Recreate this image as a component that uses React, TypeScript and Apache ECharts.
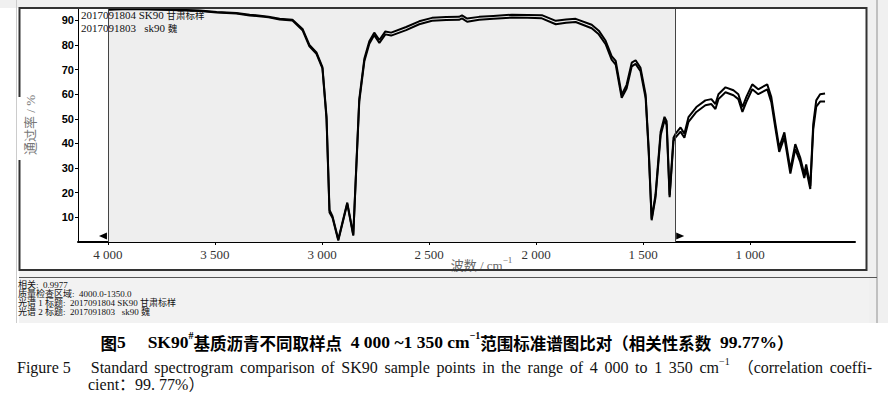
import React, { useEffect, useRef } from "react";
import * as echarts from "echarts";

// Wavenumber grid (cm-1) shared by both spectra
const wavenumbers = [
  4000, 3900, 3804, 3700, 3571, 3492, 3400, 3338, 3250, 3198, 3138, 3091, 3059, 3026, 2998, 2979,
  2965, 2951, 2924, 2882, 2854, 2826, 2802, 2779, 2756, 2732, 2704, 2677, 2607, 2546, 2486, 2420,
  2360, 2346, 2322, 2266, 2200, 2113, 2040, 1973, 1908, 1860, 1815, 1740, 1707, 1675, 1647, 1628,
  1600, 1577, 1553, 1535, 1512, 1488, 1474, 1460, 1442, 1418, 1400, 1390, 1376, 1358, 1348, 1325,
  1307, 1288, 1251, 1209, 1181, 1162, 1148, 1115, 1078, 1055, 1036, 1018, 990, 962, 920, 901,
  882, 864, 840, 812, 789, 766, 747, 738, 719, 705, 691, 673, 650,
];

// Transmittance (%) of spectrum 1: 2017091804 SK90 甘肃标样
const sample1804 = [
  94.5, 94.8, 94.6, 94.4, 94.0, 93.4, 93.0, 92.3, 91.5, 90.6, 90.2, 86.5, 80, 77, 71, 51,
  13, 10.5, 1, 16, 3, 58, 74.5, 81.5, 85, 82, 85.5, 85, 87.3, 89.6, 91, 91.3,
  91.4, 92, 90.7, 91.4, 91.8, 92.3, 92.2, 92.1, 89.8, 90.3, 90.6, 88.2, 85.8, 81.7, 75.5, 73.5,
  59.8, 63.8, 72.8, 73.8, 70.7, 59.8, 38, 9.5, 19.2, 44.8, 50.8, 49, 19, 42.3, 44, 46.5,
  44, 50.7, 54.8, 57.5, 58, 56, 60, 62.8, 61.6, 60, 54.7, 58.8, 64, 62, 64, 58.8,
  48, 38.3, 44.5, 29.5, 39.7, 34.3, 27.5, 31.5, 22.8, 48, 57.5, 60, 60.3,
];

// Transmittance (%) of spectrum 2: 2017091803 sk90 魏
const sample1803 = [
  94.3, 94.6, 94.4, 94.2, 93.8, 93.2, 92.8, 92.0, 91.2, 90.3, 89.9, 86.0, 79.4, 76.4, 70.5, 50,
  12, 9.8, 0.6, 15.5, 2.6, 57, 73.5, 80.5, 84, 80.8, 84.3, 83.8, 86, 88.4, 89.8, 90.1,
  90.2, 90.8, 89.4, 90.2, 90.6, 91.1, 91, 90.8, 88.4, 89, 89.3, 86.8, 84.3, 80.3, 74, 72,
  58.5, 62.3, 71.3, 72.3, 69.3, 58.3, 37, 8.8, 18, 43.3, 49.3, 47.6, 18.2, 41, 42.5, 44.8,
  42.3, 48.8, 52.8, 55.5, 56, 54, 58, 60.8, 59.6, 58, 52.8, 56.8, 62, 60, 62, 56.8,
  46.2, 36.6, 42.5, 27.8, 37.7, 32.5, 26, 29.5, 21.5, 45.8, 55, 57, 57,
];

const seriesNames = ["2017091804 SK90 甘肃标样", "2017091803   sk90 魏"];
const qcRange = [4000, 1350];
const xTickValues = [4000, 3500, 3000, 2500, 2000, 1500, 1000];
const yTickValues = [10, 20, 30, 40, 50, 60, 70, 80, 90];
const infoLines = [
  "相关:  0.9977",
  "质量检查区域:  4000.0-1350.0",
  "光谱 1 标题:  2017091804 SK90 甘肃标样",
  "光谱 2 标题:  2017091803   sk90 魏",
];

const SERIF = '"Liberation Serif", "Noto Sans CJK SC", serif';
const CJK = '"Noto Sans CJK SC", sans-serif';
const SP = " \u2006"; // widened word space of the justified caption line

const fmtWavenumber = (v: number) => {
  const th = Math.floor(v / 1000);
  const rest = String(v % 1000).padStart(3, "0");
  return th > 0 ? `${th} ${rest}` : `${v}`;
};

// "2017091804 SK90 甘肃标样" -> rich text with the CJK tail in its own style
const titleRich = (name: string) => {
  const m = name.match(/^([\x00-\x7f]*)(.*)$/);
  return `{d|${m ? m[1] : name}}{k|${m ? m[2] : ""}}`;
};

export default function App() {
  const ref = useRef<HTMLDivElement>(null);

  useEffect(() => {
    const chart = echarts.init(ref.current!, null, { renderer: "svg" });
    const lineStyle = { color: "#000", width: 2 };
    const captionEn =
      "Standard spectrogram comparison of SK90 sample points in the range of 4 000 to 1 350 cm".split(" ").join(SP);
    const titleStyleRich = {
      d: { fontFamily: SERIF, fontSize: 11, fill: "#111", lineHeight: 11 },
      k: { fontFamily: CJK, fontSize: 9.5, fill: "#111", lineHeight: 11 },
    };

    chart.setOption({
      animation: false,
      backgroundColor: "#fff",
      grid: { left: 78, top: 8, right: 33, bottom: 160, containLabel: false },
      xAxis: {
        type: "value",
        inverse: true,
        min: 510,
        max: 4140,
        splitLine: { show: false },
        axisLine: { lineStyle: { color: "#000", width: 2 } },
        axisTick: { show: true, customValues: xTickValues, length: 3, lineStyle: { color: "#000" } },
        axisLabel: {
          customValues: xTickValues,
          formatter: (v: number) => fmtWavenumber(v),
          fontFamily: SERIF,
          fontSize: 13,
          color: "#333",
          margin: 6,
        },
        name: "{a|波数 / cm}{s|−1}",
        nameLocation: "middle",
        nameGap: 13,
        nameMoveOverlap: false,
        nameTextStyle: {
          padding: [0, 0, 0, 30],
          rich: {
            a: { fontFamily: SERIF, fontSize: 13, color: "#666", lineHeight: 17, verticalAlign: "bottom" },
            s: { fontFamily: SERIF, fontSize: 9, color: "#666", lineHeight: 17, verticalAlign: "top" },
          },
        },
      },
      yAxis: {
        type: "value",
        min: 0,
        max: 95,
        splitLine: { show: false },
        axisLine: { show: true, lineStyle: { color: "#000", width: 1 } },
        axisTick: { show: true, customValues: yTickValues, length: 3, lineStyle: { color: "#000" } },
        axisLabel: {
          customValues: yTickValues,
          fontFamily: '"Liberation Sans", sans-serif',
          fontWeight: "bold",
          fontSize: 11,
          color: "#000",
          margin: 4,
        },
        name: "通过率 / %",
        nameLocation: "middle",
        nameGap: 41,
        nameMoveOverlap: false,
        nameTextStyle: { fontFamily: SERIF, fontSize: 13, color: "#777" },
      },
      series: [
        {
          name: seriesNames[0],
          type: "line",
          showSymbol: false,
          lineStyle,
          data: wavenumbers.map((w, i) => [w, sample1804[i]]),
          z: 3,
          markArea: {
            silent: true,
            itemStyle: { color: "#eeeeee" },
            data: [[{ xAxis: qcRange[0] }, { xAxis: qcRange[1] }]],
          },
          markLine: {
            silent: true,
            symbol: "none",
            label: { show: false },
            lineStyle: { color: "#444", width: 1, type: "solid" },
            data: [{ xAxis: qcRange[0] }, { xAxis: qcRange[1] }],
          },
          markPoint: {
            silent: true,
            label: { show: false },
            itemStyle: { color: "#000" },
            data: [
              { coord: [qcRange[0], 0], symbol: "triangle", symbolSize: [7, 8], symbolRotate: 90, symbolOffset: [-5, -6] },
              { coord: [qcRange[1], 0], symbol: "triangle", symbolSize: [7, 8], symbolRotate: -90, symbolOffset: [5, -6] },
            ],
          },
        },
        {
          name: seriesNames[1],
          type: "line",
          showSymbol: false,
          lineStyle,
          data: wavenumbers.map((w, i) => [w, sample1803[i]]),
          z: 3,
        },
      ],
      graphic: {
        elements: [
          // window chrome around the plot
          { type: "rect", shape: { x: 0, y: 0, width: 888, height: 8 }, style: { fill: "#f0f0f0" }, z: -5, silent: true },
          { type: "rect", shape: { x: 867, y: 0, width: 21, height: 323 }, style: { fill: "#f0f0f0" }, z: -5, silent: true },
          { type: "rect", shape: { x: 19, y: 270, width: 850, height: 53 }, style: { fill: "#f2f2f2" }, z: -5, silent: true },
          { type: "line", shape: { x1: 877, y1: 0, x2: 877, y2: 323 }, style: { stroke: "#b0b0b0", lineWidth: 1.5 }, z: 10, silent: true },
          { type: "line", shape: { x1: 19, y1: 277.5, x2: 877, y2: 277.5 }, style: { stroke: "#555", lineWidth: 1 }, z: 10, silent: true },
          { type: "line", shape: { x1: 16.5, y1: 0, x2: 16.5, y2: 323 }, style: { stroke: "#ccc", lineWidth: 1 }, z: 10, silent: true },
          { type: "rect", shape: { x: 19.5, y: 8, width: 847, height: 262 }, style: { fill: "none", stroke: "#333", lineWidth: 2 }, z: 10, silent: true },
          { type: "rect", shape: { x: 18, y: 97, width: 4, height: 63 }, style: { fill: "#fff" }, z: 11, silent: true },
          // spectrum titles
          {
            type: "text",
            x: 81,
            y: 9,
            z: 4,
            silent: true,
            style: { text: titleRich(seriesNames[0]), rich: titleStyleRich },
          },
          {
            type: "text",
            x: 81,
            y: 22,
            z: 4,
            silent: true,
            style: { text: titleRich(seriesNames[1]), rich: titleStyleRich },
          },
          // comparison summary
          {
            type: "text",
            x: 18,
            y: 280,
            z: 12,
            silent: true,
            style: {
              text: infoLines.join("\n"),
              fontFamily: SERIF,
              fontSize: 9,
              lineHeight: 9,
              fill: "#111",
            },
          },
          // captions
          {
            type: "text",
            x: 447,
            y: 330,
            silent: true,
            style: {
              text: "{c|图}{b|5     SK90}{s|#}{c|基质沥青不同取样点}{b|  4 000 ~1 350 cm}{s|−1}{c|范围标准谱图比对（相关性系数}{b|  99.77%}{c|）}",
              align: "center",
              rich: {
                c: { fontFamily: CJK, fontWeight: "bold", fontSize: 16.5, fill: "#000", lineHeight: 21, verticalAlign: "bottom" },
                b: { fontFamily: SERIF, fontWeight: "bold", fontSize: 17.5, fill: "#000", lineHeight: 21, verticalAlign: "bottom" },
                s: { fontFamily: SERIF, fontWeight: "bold", fontSize: 10, fill: "#000", lineHeight: 21, verticalAlign: "top" },
              },
            },
          },
          {
            type: "text",
            x: 17,
            y: 356,
            silent: true,
            style: {
              text: `{a|Figure 5\u3000 ${captionEn}}{s|−1}{a|  （correlation${SP}coeffi-}`,
              rich: {
                a: { fontFamily: SERIF, fontSize: 16, fill: "#111", lineHeight: 20, verticalAlign: "bottom" },
                s: { fontFamily: SERIF, fontSize: 10, fill: "#111", lineHeight: 20, verticalAlign: "top" },
              },
            },
          },
          {
            type: "text",
            x: 88,
            y: 376,
            silent: true,
            style: { text: "cient：99. 77%）", fontFamily: SERIF, fontSize: 16, fill: "#111" },
          },
        ],
      },
    });

    return () => chart.dispose();
  }, []);

  return (
    <div
      ref={ref}
      style={{ position: "absolute", left: 0, top: 0, width: 888, height: 402, background: "#fff" }}
    />
  );
}
